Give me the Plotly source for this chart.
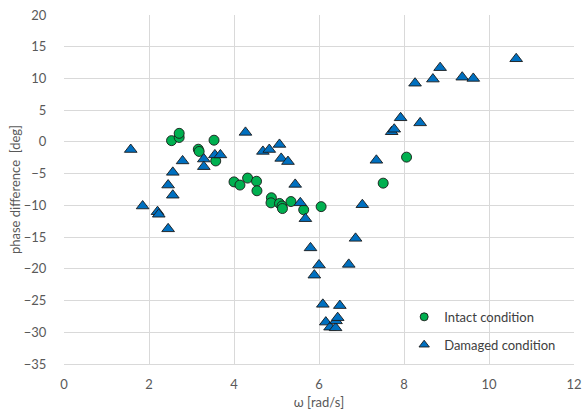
import plotly.graph_objects as go

intact_x = [2.53, 2.71, 2.71, 3.16, 3.18, 3.53, 3.57, 4.00, 4.14, 4.32, 4.53, 4.54,
            4.88, 4.87, 5.07, 5.13, 5.14, 5.34, 5.64, 6.05, 7.51, 8.06]
intact_y = [0.2, 0.7, 1.35, -1.15, -1.5, 0.27, -3.0, -6.3, -6.8, -5.7, -6.2, -7.7,
            -8.8, -9.6, -9.7, -10.1, -10.5, -9.4, -10.7, -10.2, -6.5, -2.4]

damaged_x = [1.57, 1.85, 2.20, 2.23, 2.45, 2.45, 2.56, 2.56, 2.79, 3.29, 3.29, 3.55,
             3.68, 4.27, 4.68, 4.83, 5.07, 5.11, 5.27, 5.44, 5.56, 5.68, 5.80, 5.89,
             6.00, 6.09, 6.16, 6.26, 6.39, 6.40, 6.44, 6.49, 6.70, 6.86, 7.02, 7.35,
             7.71, 7.77, 7.92, 8.26, 8.38, 8.68, 8.85, 9.37, 9.63, 10.64]
damaged_y = [-1.2, -10.1, -11.0, -11.4, -13.7, -6.8, -8.4, -4.8, -3.0, -2.7, -3.9, -2.05,
             -2.05, 1.5, -1.5, -1.2, -0.4, -2.6, -3.1, -6.7, -9.6, -12.1, -16.7, -21.0,
             -19.4, -25.6, -28.4, -29.2, -29.3, -28.2, -27.7, -25.8, -19.3, -15.2, -9.9, -2.9,
             1.6, 2.0, 3.8, 9.25, 3.0, 9.9, 11.7, 10.2, 10.0, 13.1]

x_ticks = [0, 2, 4, 6, 8, 10, 12]
y_ticks = [20, 15, 10, 5, 0, -5, -10, -15, -20, -25, -30, -35]

FONT = "Lato"
TXT = "#595959"
GRID = "#D9D9D9"
GREEN = "#00B050"
BLUE = "#0070C0"
EDGE = "#1a1a1a"

fig = go.Figure()
fig.add_trace(go.Scatter(
    x=intact_x, y=intact_y, mode="markers", name="Intact condition", showlegend=False,
    marker=dict(symbol="circle", size=10, color=GREEN, line=dict(color=EDGE, width=0.9))))
fig.add_trace(go.Scatter(
    x=damaged_x, y=damaged_y, mode="markers", name="Damaged condition", showlegend=False,
    marker=dict(symbol="triangle-up", size=11, color=BLUE, line=dict(color=EDGE, width=0.9))))
# legend entries with smaller symbols, as in the reference
fig.add_trace(go.Scatter(
    x=[None], y=[None], mode="markers", name="Intact condition", legendgroup="a",
    marker=dict(symbol="circle", size=8, color=GREEN, line=dict(color=EDGE, width=0.9))))
fig.add_trace(go.Scatter(
    x=[None], y=[None], mode="markers", name="Damaged condition", legendgroup="b",
    marker=dict(symbol="triangle-up", size=9, color=BLUE, line=dict(color=EDGE, width=0.9))))

fig.update_layout(
    width=582, height=412,
    margin=dict(l=64, r=8, t=15, b=48, autoexpand=False),
    paper_bgcolor="white", plot_bgcolor="white",
    font=dict(family=FONT, size=13, color=TXT),
    showlegend=True,
    legend=dict(x=0.667, y=0.178, xanchor="left", yanchor="top",
                bgcolor="rgba(0,0,0,0)", font=dict(size=13, color="#404040"),
                tracegroupgap=8, itemwidth=30),
)
fig.update_xaxes(
    range=[0, 12], tickvals=x_ticks, showgrid=True, gridcolor=GRID, gridwidth=1,
    zeroline=False, showline=True, linecolor=GRID, mirror=False, automargin=False,
    ticks="outside", ticklen=8, tickcolor="rgba(0,0,0,0)",
    title=dict(text="ω [rad/s]", standoff=7, font=dict(size=13, color=TXT)),
)
fig.update_yaxes(
    range=[-35, 20], tickvals=y_ticks, showgrid=True, gridcolor=GRID, gridwidth=1,
    zeroline=False, showline=False, automargin=False,
    ticks="outside", ticklen=14, tickcolor="rgba(0,0,0,0)",
    title=dict(text="phase difference  [deg]", standoff=0, font=dict(size=13, color=TXT)),
)

fig.write_html("out.html", config={"displayModeBar": False},
               post_script="document.body.style.margin='0';")
